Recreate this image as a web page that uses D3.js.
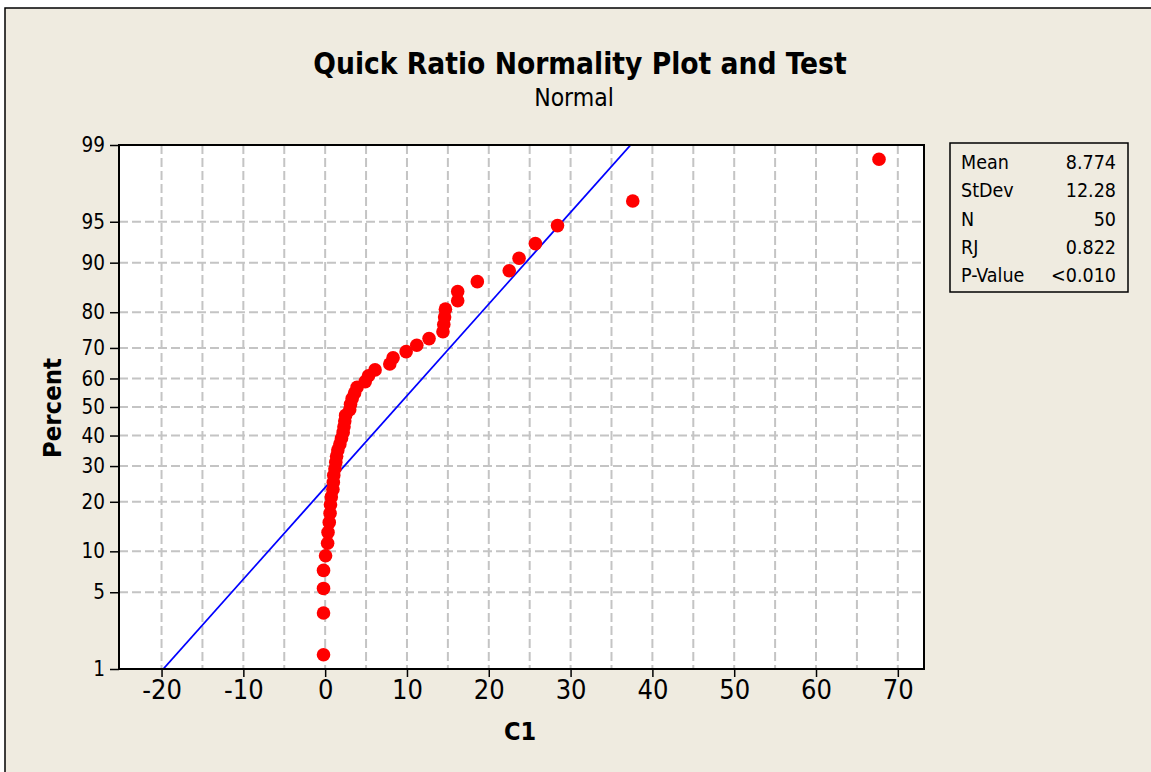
<!DOCTYPE html>
<html>
<head>
<meta charset="utf-8">
<script src="https://cdn.jsdelivr.net/npm/d3@7"></script>
<style>
  html, body { margin: 0; padding: 0; background: #ffffff; }
  svg { display: block; }
  text { font-family: "DejaVu Sans Condensed", "DejaVu Sans", sans-serif; fill: #000; }
</style>
</head>
<body>
<svg id="chart" width="1151" height="772"></svg>
<script>
// ---------------- data ----------------
const title = "Quick Ratio Normality Plot and Test";
const subtitle = "Normal";
const xLabel = "C1";
const yLabel = "Percent";

// sorted observations (C1)
const values = [-0.2, -0.2, -0.2, -0.2, 0.05, 0.3, 0.35, 0.5, 0.6, 0.65,
                0.75, 0.95, 1.0, 1.05, 1.2, 1.3, 1.4, 1.55, 1.8, 2.0,
                2.2, 2.3, 2.4, 2.5, 3.0, 3.1, 3.3, 3.6, 3.9, 4.9,
                5.3, 6.1, 7.9, 8.3, 9.9, 11.2, 12.7, 14.4, 14.5, 14.6,
                14.7, 16.2, 16.2, 18.6, 22.5, 23.7, 25.7, 28.4, 37.6, 67.7];
// plotted percent for each observation
const percents = [1.39, 3.37, 5.36, 7.34, 9.33, 11.31, 13.29, 15.28, 17.26, 19.25,
                  21.23, 23.21, 25.20, 27.18, 29.17, 31.15, 33.13, 35.12, 37.10, 39.09,
                  41.07, 43.06, 45.04, 47.02, 49.01, 50.99, 52.98, 54.96, 56.94, 58.93,
                  60.91, 62.90, 64.88, 66.87, 68.85, 70.83, 72.82, 74.80, 76.79, 78.77,
                  80.75, 82.74, 84.72, 86.71, 88.69, 90.67, 92.66, 94.64, 96.63, 98.61];

const xTicks = [-20, -10, 0, 10, 20, 30, 40, 50, 60, 70];
const xGrid = [-20, -15, -10, -5, 0, 5, 10, 15, 20, 25, 30, 35, 40, 45, 50, 55, 60, 65, 70];
const yTicks = [1, 5, 10, 20, 30, 40, 50, 60, 70, 80, 90, 95, 99];
const yGrid = [5, 10, 20, 30, 40, 50, 60, 70, 80, 90, 95];

const statLabels = ["Mean", "StDev", "N", "RJ", "P-Value"];
const statValues = ["8.774", "12.28", "50", "0.822", "<0.010"];
const fitMean = 8.774, fitSd = 12.28;

// ---------------- helpers ----------------
// inverse standard normal CDF (Acklam)
function probit(p) {
  const a = [-3.969683028665376e+01, 2.209460984245205e+02, -2.759285104469687e+02,
             1.383577518672690e+02, -3.066479806614716e+01, 2.506628277459239e+00];
  const b = [-5.447609879822406e+01, 1.615858368580409e+02, -1.556989798598866e+02,
             6.680131188771972e+01, -1.328068155288572e+01];
  const c = [-7.784894002430293e-03, -3.223964580411365e-01, -2.400758277161838e+00,
             -2.549732539343734e+00, 4.374664141464968e+00, 2.938163982698783e+00];
  const d = [7.784695709041462e-03, 3.224671290700398e-01, 2.445134137142996e+00,
             3.754408661907416e+00];
  const pl = 0.02425, ph = 1 - pl;
  let q, r;
  if (p < pl) {
    q = Math.sqrt(-2 * Math.log(p));
    return (((((c[0]*q+c[1])*q+c[2])*q+c[3])*q+c[4])*q+c[5]) / ((((d[0]*q+d[1])*q+d[2])*q+d[3])*q+1);
  } else if (p <= ph) {
    q = p - 0.5; r = q*q;
    return (((((a[0]*r+a[1])*r+a[2])*r+a[3])*r+a[4])*r+a[5])*q / (((((b[0]*r+b[1])*r+b[2])*r+b[3])*r+b[4])*r+1);
  } else {
    q = Math.sqrt(-2 * Math.log(1 - p));
    return -(((((c[0]*q+c[1])*q+c[2])*q+c[3])*q+c[4])*q+c[5]) / ((((d[0]*q+d[1])*q+d[2])*q+d[3])*q+1);
  }
}

// ---------------- layout ----------------
const svg = d3.select("#chart");
const L = 119, R = 924, T = 145, B = 669;

svg.append("rect").attr("x", 5).attr("y", 8).attr("width", 1170).attr("height", 800)
  .attr("fill", "#efebe0").attr("stroke", "#000").attr("stroke-width", 1.5);

const x = d3.scaleLinear().domain([-25.2, 73.2]).range([L, R]);
const zScale = d3.scaleLinear().domain([probit(0.01), probit(0.99)]).range([B, T]);
const y = p => zScale(probit(p / 100));

// plot area
svg.append("rect").attr("x", L).attr("y", T).attr("width", R - L).attr("height", B - T)
  .attr("fill", "#ffffff");

const grid = svg.append("g").attr("stroke", "#c4c4c4").attr("stroke-width", 2)
  .attr("stroke-dasharray", "9,4");
grid.selectAll("line.v").data(xGrid).join("line").attr("class", "v")
  .attr("x1", d => x(d)).attr("x2", d => x(d)).attr("y1", T).attr("y2", B);
grid.selectAll("line.h").data(yGrid).join("line").attr("class", "h")
  .attr("x1", L).attr("x2", R).attr("y1", d => y(d)).attr("y2", d => y(d));

// clip
svg.append("clipPath").attr("id", "clip").append("rect")
  .attr("x", L).attr("y", T).attr("width", R - L).attr("height", B - T);

// fitted line
const fitPts = [1, 99].map(p => [fitMean + fitSd * probit(p / 100), p]);
svg.append("path").attr("clip-path", "url(#clip)")
  .attr("d", d3.line().x(d => x(d[0])).y(d => y(d[1]))(fitPts))
  .attr("fill", "none").attr("stroke", "#0000ff").attr("stroke-width", 1.8);

// points
svg.append("g").selectAll("circle").data(values).join("circle")
  .attr("cx", d => x(d)).attr("cy", (d, i) => y(percents[i]))
  .attr("r", 6.8).attr("fill", "#ff0000");

// frame
svg.append("rect").attr("x", L).attr("y", T).attr("width", R - L).attr("height", B - T)
  .attr("fill", "none").attr("stroke", "#000").attr("stroke-width", 2);

// axes
const xAxis = svg.append("g").attr("transform", `translate(0,${B})`)
  .call(d3.axisBottom(x).tickValues(xTicks).tickFormat(d => String(d))
    .tickSize(8).tickSizeOuter(0).tickPadding(3));
xAxis.select(".domain").remove();
xAxis.selectAll("line").attr("stroke", "#000").attr("stroke-width", 1.5);
xAxis.selectAll("text").attr("font-size", 27).attr("font-family", null);

const yAx = d3.axisLeft(zScale).tickValues(yTicks.map(p => probit(p / 100)))
  .tickFormat((d, i) => String(yTicks[i])).tickSize(9).tickSizeOuter(0).tickPadding(5);
const yAxis = svg.append("g").attr("transform", `translate(${L},0)`).call(yAx);
yAxis.select(".domain").remove();
yAxis.selectAll("line").attr("stroke", "#000").attr("stroke-width", 1.5);
yAxis.selectAll("text").attr("font-size", 20.5).attr("font-family", null);

// titles
svg.append("text").attr("x", 580).attr("y", 74).attr("text-anchor", "middle")
  .attr("font-size", 29.6).attr("font-weight", "bold").text(title);
svg.append("text").attr("x", 574).attr("y", 106).attr("text-anchor", "middle")
  .attr("font-size", 24.5).text(subtitle);
svg.append("text").attr("x", 520).attr("y", 740).attr("text-anchor", "middle")
  .attr("font-size", 25).attr("font-weight", "bold").text(xLabel);
svg.append("text").attr("transform", `translate(61,408) rotate(-90)`).attr("text-anchor", "middle")
  .attr("font-size", 25.5).attr("font-weight", "bold").text(yLabel);

// stats box
svg.append("rect").attr("x", 950).attr("y", 143).attr("width", 178).attr("height", 149)
  .attr("fill", "none").attr("stroke", "#000").attr("stroke-width", 1.5);
const rowY = d3.scalePoint().domain(statLabels).range([169, 282]);
svg.append("g").selectAll("text").data(statLabels).join("text")
  .attr("x", 961).attr("y", d => rowY(d)).attr("font-size", 19.5).text(d => d);
svg.append("g").selectAll("text").data(statValues).join("text")
  .attr("x", 1116).attr("y", (d, i) => rowY(statLabels[i])).attr("text-anchor", "end")
  .attr("font-size", 19.5).text(d => d);
</script>
</body>
</html>
